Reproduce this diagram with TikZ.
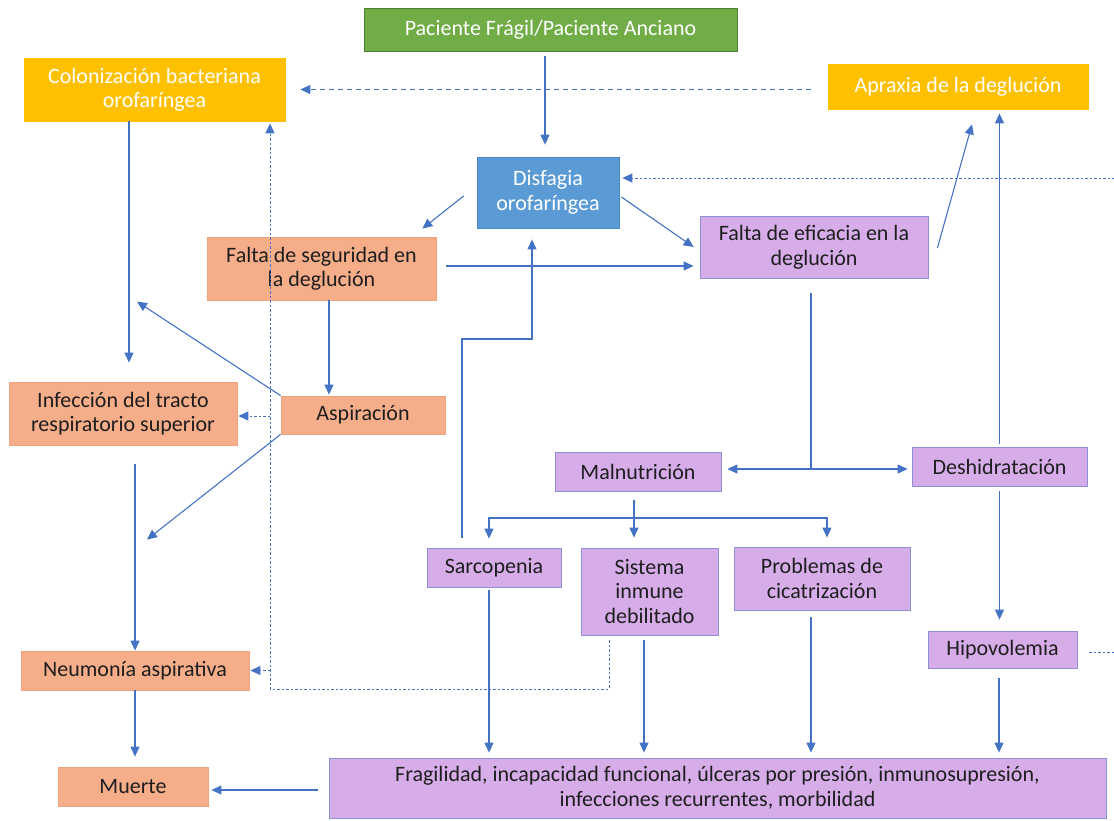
\documentclass[tikz,border=0pt]{standalone}
\usepackage{fontspec}
\setmainfont{Carlito}
\usetikzlibrary{arrows.meta,calc}

\definecolor{linkblue}{HTML}{4472C4}
\definecolor{pgreen}{HTML}{70AD47}
\definecolor{pgreendark}{HTML}{507E32}
\definecolor{pyellow}{HTML}{FFC000}
\definecolor{pblue}{HTML}{5B9BD5}
\definecolor{pbluedark}{HTML}{4A89C6}
\definecolor{psalmon}{HTML}{F5AD8A}
\definecolor{psalmondark}{HTML}{EFA27C}
\definecolor{plilac}{HTML}{D7ADE9}
\definecolor{plilacedge}{HTML}{8E90D6}
\definecolor{ink}{HTML}{1E1E1E}

\tikzset{
  dims/.style 2 args={minimum width=#1, minimum height=#2},
  box/.style={rectangle, inner sep=0pt, align=center, line width=0.8pt,
              font=\fontsize{22}{24.5}\selectfont},
  greenbox/.style={box, fill=pgreen, draw=pgreendark, text=white},
  yellowbox/.style={box, fill=pyellow, draw=pyellow, text=white},
  bluebox/.style={box, fill=pblue, draw=pbluedark, text=white},
  salmonbox/.style={box, fill=psalmon, draw=psalmondark, text=ink},
  lilacbox/.style={box, fill=plilac, draw=plilacedge, text=ink},
  arr/.style={draw=linkblue, line width=1.1pt, -{Triangle[length=10pt,width=9pt]}},
  plain/.style={draw=linkblue, line width=1.1pt},
  dashlink/.style={draw=linkblue, line width=1pt, dash pattern=on 5pt off 4pt,
                   -{Triangle[length=10pt,width=9pt]}},
  dotlink/.style={draw=linkblue, line width=0.9pt, dash pattern=on 2.5pt off 2pt},
}

\begin{document}
\begin{tikzpicture}[x=1pt,y=-1pt]
\useasboundingbox (0,0) rectangle (1114,820);

% ---- boxes ----
\node[greenbox,  dims={373pt}{43pt}] (pac) at (550.5,29.5) {Paciente Frágil/Paciente Anciano};
\node[yellowbox, dims={261pt}{63pt}] (col) at (154.5,89.5) {Colonización bacteriana\\orofaríngea};
\node[yellowbox, dims={260pt}{45pt}] (apr) at (958,86.5) {Apraxia de la deglución};
\node[bluebox,   dims={142pt}{71pt}] (dis) at (548,192.5) {Disfagia\\orofaríngea};
\node[salmonbox, dims={229pt}{63pt}] (seg) at (321.5,268.5) {Falta de seguridad en\\la deglución};
\node[lilacbox,  dims={228pt}{62pt}] (efi) at (814,247) {Falta de eficacia en la\\deglución};
\node[salmonbox, dims={164pt}{38pt}] (asp) at (363,415) {Aspiración};
\node[salmonbox, dims={228pt}{63pt}] (inf) at (123,413.5) {Infección del tracto\\respiratorio superior};
\node[salmonbox, dims={228pt}{39pt}] (neu) at (135,670.5) {Neumonía aspirativa};
\node[salmonbox, dims={150pt}{39pt}] (mue) at (133,786.5) {Muerte};
\node[lilacbox,  dims={166pt}{39pt}] (mal) at (638,471.5) {Malnutrición};
\node[lilacbox,  dims={175pt}{39pt}] (des) at (999.5,466.5) {Deshidratación};
\node[lilacbox,  dims={134pt}{39pt}] (sar) at (494,567.5) {Sarcopenia};
\node[lilacbox,  dims={137pt}{87pt}] (sis) at (649.5,591.5) {Sistema\\inmune\\debilitado};
\node[lilacbox,  dims={176pt}{63pt}] (pro) at (822,578.5) {Problemas de\\cicatrización};
\node[lilacbox,  dims={149pt}{37pt}] (hip) at (1002.5,649.5) {Hipovolemia};
\node[lilacbox,  dims={777pt}{60pt}] (fra) at (717.5,788) {Fragilidad, incapacidad funcional, úlceras por presión, inmunosupresión,\\infecciones recurrentes, morbilidad};

% ---- bend points ----
\coordinate (rimA) at (1117,652);
\coordinate (rimB) at (1117,178);
\coordinate (dl1) at (609,689);
\coordinate (dl2) at (270,689);
\coordinate (sb1) at (462,339);
\coordinate (sb2) at (532,339);
\coordinate (hub) at (811,469);
\coordinate (mb)  at (634,518);

% ---- solid connectors ----
\draw[arr, shorten <=5pt, shorten >=12pt] ([xshift=-5.5pt]pac.south) -- ([xshift=-3pt]dis.north);
\draw[arr] ($(dis.west)+(-13,3.5)$) -- ($(seg.north east)+(-14,-8)$);
\draw[arr] ($(dis.east)+(2,4.5)$) -- ($(efi.west)+(-6,0)$);
\draw[arr, shorten <=10pt, shorten >=6pt] ([yshift=2.5pt]seg.east) -- ([yshift=2.5pt]seg.east -| efi.west);
\draw[arr] ($(efi.east)+(9,1)$) -- ($(apr.south)+(14,15)$);
\draw[arr, shorten <=3pt, shorten >=4pt] (des.north) -- (des.north |- apr.south);
\draw[arr, shorten >=19pt] ([xshift=-25.5pt]col.south) -- ([xshift=-25.5pt]col.south |- inf.north);
\draw[arr] (asp.north west) -- ($(inf.north)+(14,-80)$);
\draw[arr, shorten >=1pt] ([xshift=7.5pt]seg.south) -- ([xshift=7.5pt]seg.south |- asp.north);
\draw[arr] (asp.south west) -- ($(neu.north)+(12,-111)$);
\draw[arr, shorten <=19pt] ([xshift=12pt]inf.south) -- (neu.north);
\draw[arr, shorten >=10pt] (neu.south) -- (neu.south |- mue.north);
\draw[arr, shorten <=11pt, shorten >=3pt] ([yshift=-2pt]fra.west) -- ([yshift=-2pt]fra.west -| mue.east);
\draw[arr, shorten <=10pt, shorten >=11pt] (sar.north -| sb1) -- (sb1) -- (sb2) -- (sb2 |- dis.south);

% falta de eficacia splits towards malnutricion and deshidratacion
\draw[plain, shorten <=15pt] (efi.south -| hub) -- (hub);
\draw[arr, shorten >=6pt] (hub) -- (hub -| mal.east);
\draw[arr, shorten >=4pt] (hub) -- (hub -| des.west);

% malnutricion branches
\draw[arr, shorten <=9pt, shorten >=10pt] (mal.south -| mb) -- (mb |- sis.north);
\draw[arr, shorten >=9pt] (mb) -| ([xshift=-5pt]sar.north);
\draw[arr, shorten >=9pt] (mb) -| ([xshift=5pt]pro.north);

% deshidratacion to hipovolemia
\draw[arr, shorten <=5pt, shorten >=11pt] (des.south) -- (des.south |- hip.north);

% consequences into the bottom box
\draw[arr, shorten <=3pt, shorten >=5pt] ([xshift=-5pt]sar.south) -- ([xshift=-5pt]sar.south |- fra.north);
\draw[arr, shorten <=5pt, shorten >=5pt] ([xshift=-5.5pt]sis.south) -- ([xshift=-5.5pt]sis.south |- fra.north);
\draw[arr, shorten <=7pt, shorten >=5pt] ([xshift=-11pt]pro.south) -- ([xshift=-11pt]pro.south |- fra.north);
\draw[arr, shorten <=10pt, shorten >=5pt] ([xshift=-3.5pt]hip.south) -- ([xshift=-3.5pt]hip.south |- fra.north);

% ---- dashed / dotted connectors ----
\draw[dashlink, shorten <=17pt, shorten >=15pt] (col.east -| apr.west) -- (col.east);
\draw[dotlink, -{Triangle[length=10pt,width=9pt]}, shorten <=12pt, shorten >=3pt]
  (hip.east |- rimA) -- (rimA) -- (rimB) -- (dis.east |- rimB);
\draw[dotlink, -{Triangle[length=10pt,width=9pt]}, shorten <=5pt, shorten >=2pt]
  (sis.south -| dl1) -- (dl1) -- (dl2) -- (dl2 |- col.south);
\draw[dotlink, -{Triangle[length=10pt,width=9pt]}, shorten >=1pt]
  ([yshift=-2.5pt]inf.east -| dl2) -- ([yshift=-2.5pt]inf.east);
\draw[dotlink, -{Triangle[length=10pt,width=9pt]}, shorten >=1pt]
  (neu.east -| dl2) -- (neu.east);
\end{tikzpicture}
\end{document}
